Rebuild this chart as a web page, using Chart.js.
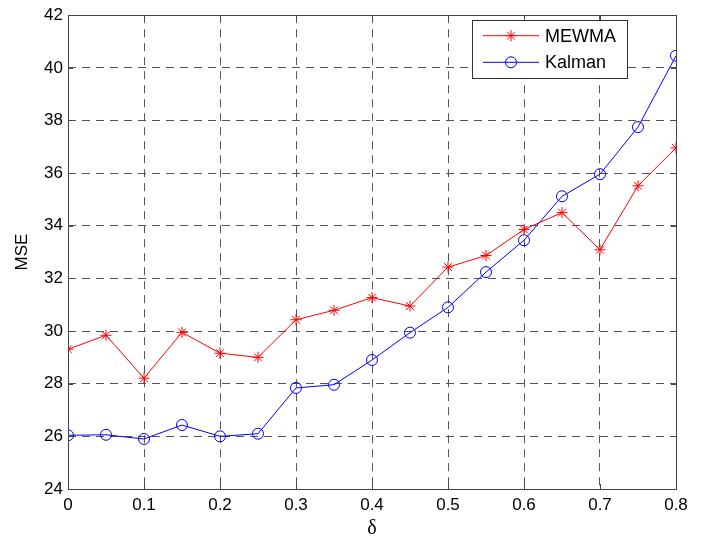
<!DOCTYPE html>
<html><head><meta charset="utf-8">
<script src="https://cdn.jsdelivr.net/npm/chart.js@4/dist/chart.umd.min.js"></script>
<style>html,body{margin:0;padding:0;background:#fff}#wrap{width:710px;height:541px}</style>
</head><body><div id="wrap"><canvas id="c" width="710" height="541"></canvas></div>
<script>
const deltas = [0,0.05,0.1,0.15,0.2,0.25,0.3,0.35,0.4,0.45,0.5,0.55,0.6,0.65,0.7,0.75,0.8];
const mewma  = [29.31,29.84,28.21,29.95,29.16,29.0,30.43,30.79,31.27,30.95,32.43,32.87,33.86,34.5,33.09,35.52,36.96];
const kalman = [26.04,26.06,25.9,26.43,26.0,26.1,27.84,27.96,28.9,29.94,30.9,32.24,33.45,35.12,35.96,37.75,40.46];
const xTicks = [0,0.1,0.2,0.3,0.4,0.5,0.6,0.7,0.8];
const yTicks = [24,26,28,30,32,34,36,38,40,42];
const seriesNames = ['MEWMA','Kalman'];

const pts = (xs, ys) => xs.map((x,i)=>({x:x,y:ys[i]}));

const frame = {
  id:'frame',
  afterDraw(chart){
    const {ctx, chartArea:a, scales} = chart;
    ctx.save();
    ctx.strokeStyle='#444'; ctx.lineWidth=1;
    ctx.strokeRect(Math.round(a.left)+0.5, Math.round(a.top)+0.5, Math.round(a.right-a.left), Math.round(a.bottom-a.top));
    const tl=5;
    ctx.beginPath();
    xTicks.forEach(v=>{const x=Math.round(scales.x.getPixelForValue(v))+0.5;
      ctx.moveTo(x,a.bottom); ctx.lineTo(x,a.bottom-tl); ctx.moveTo(x,a.top); ctx.lineTo(x,a.top+tl);});
    yTicks.forEach(v=>{const y=Math.round(scales.y.getPixelForValue(v))+0.5;
      ctx.moveTo(a.left,y); ctx.lineTo(a.left+tl,y); ctx.moveTo(a.right,y); ctx.lineTo(a.right-tl,y);});
    ctx.stroke();
    // legend
    const lx=472, ly=20, lw=155, lh=58;
    ctx.fillStyle='#fff'; ctx.fillRect(lx,ly,lw,lh);
    ctx.strokeStyle='#333'; ctx.strokeRect(lx+0.5,ly+0.5,lw,lh);
    const rows=[35.7,62.3];
    chart.data.datasets.forEach((ds,i)=>{
      const y=rows[i];
      ctx.strokeStyle=ds.borderColor; ctx.lineWidth=1;
      ctx.beginPath(); ctx.moveTo(483,y); ctx.lineTo(539,y); ctx.stroke();
      ctx.fillStyle=ds.pointBackgroundColor; ctx.strokeStyle=ds.pointBorderColor;
      Chart.helpers.drawPoint(ctx,{pointStyle:ds.pointStyle,radius:ds.pointRadius,borderWidth:1,rotation:0},511,y);
      ctx.fillStyle='#000'; ctx.font='18px "Liberation Sans", Arial, sans-serif';
      ctx.textBaseline='middle'; ctx.textAlign='left';
      ctx.fillText(ds.label,545,y+1);
    });
    ctx.restore();
  }
};

new Chart(document.getElementById('c'),{
  type:'line',
  data:{datasets:[
    {label:seriesNames[0],data:pts(deltas,mewma),borderColor:'#ff0000',backgroundColor:'#ff0000',borderWidth:1,
     pointStyle:'star',pointRadius:5.5,pointBorderColor:'#ff0000',pointBackgroundColor:'#ff0000',pointBorderWidth:1,tension:0},
    {label:seriesNames[1],data:pts(deltas,kalman),borderColor:'#0000ff',backgroundColor:'rgba(0,0,0,0)',borderWidth:1,
     pointStyle:'circle',pointRadius:5.5,pointBorderColor:'#0000ff',pointBackgroundColor:'rgba(0,0,0,0)',pointBorderWidth:1,tension:0}
  ]},
  options:{
    responsive:false,animation:false,
    layout:{padding:{top:10,right:34,left:0,bottom:0}},
    plugins:{legend:{display:false},tooltip:{enabled:false}},
    scales:{
      x:{type:'linear',min:0,max:0.8,
        afterBuildTicks(s){s.ticks=xTicks.map(v=>({value:v}));},
        afterFit(s){s.height=52;},
        grid:{color:'#555',lineWidth:1,drawTicks:false},
        border:{display:false,dash:[8,6]},
        ticks:{color:'#000',padding:6,font:{size:17,family:'"Liberation Sans", Arial, sans-serif'},
          maxRotation:0,autoSkip:false,callback:v=>String(Math.round(v*10)/10)},
        title:{display:true,text:'δ',color:'#000',font:{size:20,family:'"Liberation Serif", "Times New Roman", serif'},padding:{top:0,bottom:0}}
      },
      y:{type:'linear',min:24,max:42,
        afterBuildTicks(s){s.ticks=yTicks.map(v=>({value:v}));},
        afterFit(s){s.width=68;},
        grid:{color:'#555',lineWidth:1,drawTicks:false},
        border:{display:false,dash:[8,6]},
        ticks:{color:'#000',padding:5,font:{size:17,family:'"Liberation Sans", Arial, sans-serif'},autoSkip:false},
        title:{display:true,text:'MSE',color:'#000',font:{size:17,family:'"Liberation Sans", Arial, sans-serif'},padding:{top:12,bottom:0}}
      }
    }
  },
  plugins:[frame]
});
</script></body></html>
